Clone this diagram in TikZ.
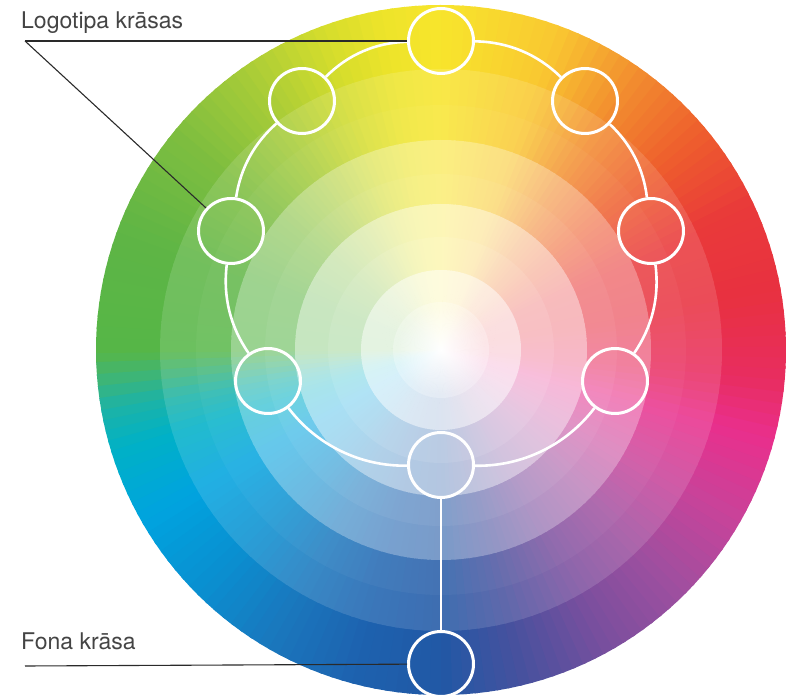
\documentclass[tikz,border=0pt]{standalone}
\usepackage{fontspec}
\setmainfont{TeX Gyre Heros}
\usepackage{tikz}
\usetikzlibrary{positioning,fadings}
\tikzfading[name=glowfade, inner color=transparent!0, outer color=transparent!100]
\definecolor{inkgray}{HTML}{444444}
\definecolor{linegray}{HTML}{2A2A2A}
% hue stops round the wheel
\definecolor{hA}{HTML}{56B647}
\definecolor{hB}{HTML}{44B56E}
\definecolor{hC}{HTML}{1DB3A6}
\definecolor{hD}{HTML}{00B1C6}
\definecolor{hE}{HTML}{00A3DF}
\definecolor{hF}{HTML}{0A8FD0}
\definecolor{hG}{HTML}{1A77BD}
\definecolor{hH}{HTML}{1D62AF}
\definecolor{hI}{HTML}{2158A5}
\definecolor{hJ}{HTML}{4A519E}
\definecolor{hK}{HTML}{7B4F9E}
\definecolor{hL}{HTML}{9F4F9F}
\definecolor{hM}{HTML}{C8439A}
\definecolor{hN}{HTML}{E92F8C}
\definecolor{hO}{HTML}{E82D60}
\definecolor{hP}{HTML}{E83140}
\definecolor{hQ}{HTML}{E9393A}
\definecolor{hR}{HTML}{EE5E2D}
\definecolor{hS}{HTML}{F28E2F}
\definecolor{hT}{HTML}{F9C831}
\definecolor{hU}{HTML}{F8E52C}
\definecolor{hV}{HTML}{EDE42A}
\definecolor{hW}{HTML}{D6DD2C}
\definecolor{hX}{HTML}{A8CC38}
\definecolor{hY}{HTML}{7FBE3F}
\definecolor{hZ}{HTML}{5EB545}

\begin{document}
\begin{tikzpicture}[x=1pt, y=1pt,
  swatch/.style={circle, draw=white, line width=3pt, minimum size=65pt, inner sep=0pt},
  ring/.style={draw=white, line width=2.6pt, looseness=0.9},
  lbl/.style={font=\fontsize{23}{27}\selectfont, text=inkgray, inner sep=0pt, anchor=base west},
  lead/.style={draw=linegray, line width=1.1pt},
]
\useasboundingbox (0,0) rectangle (787,696);

\coordinate (wheel) at (441,346);

% colour wheel, from the saturated rim to the pale middle
\foreach \r/\p in {345/100, 281/87, 245/84, 210/60, 176/57,
    146/34, 113/31, 80/16, 48/12}{
  \foreach \a/\b/\ca/\cb in {-180/-176/hA/hB, -176/-170/hB/hC, -170/-163/hC/hD,
      -163/-150/hD/hE, -150/-135/hE/hF, -135/-120/hF/hG, -120/-105/hG/hH,
      -105/-90/hH/hI, -90/-75/hI/hJ, -75/-60/hJ/hK, -60/-45/hK/hL, -45/-30/hL/hM,
      -30/-15/hM/hN, -15/-5/hN/hO, -5/10/hO/hP, 10/25/hP/hQ, 25/40/hQ/hR,
      40/55/hR/hS, 55/70/hS/hT, 70/90/hT/hU, 90/100/hU/hV, 100/110/hV/hW,
      110/125/hW/hX, 125/140/hX/hY, 140/160/hY/hZ, 160/180/hZ/hA}{
    \pgfmathtruncatemacro{\n}{max(1,round((\b-\a)/2))}
    \foreach \k in {1,...,\n}{
      \pgfmathsetmacro{\s}{\a+(\b-\a)*(\k-1)/\n}
      \pgfmathsetmacro{\e}{\a+(\b-\a)*\k/\n+0.5}
      \pgfmathsetmacro{\t}{100*(\k-0.5)/\n}
      \colorlet{huenow}{\cb!\t!\ca}
      \fill[huenow!\p!white] (wheel) -- ++(\s:\r) arc[start angle=\s, end angle=\e, radius=\r] -- cycle;
    }
  }
}
\fill[white, path fading=glowfade] (wheel) circle[radius=45];

\node[swatch] (c1) at (441,655) {};
\node[swatch] (c2) at (585,595) {};
\node[swatch] (c3) at (651,465) {};
\node[swatch] (c4) at (615,315) {};
\node[swatch] (c5) at (441,231) {};
\node[swatch] (c6) at (268,315) {};
\node[swatch] (c7) at (231,465) {};
\node[swatch] (c8) at (302,595) {};
\node[swatch] (fona) at (441,32) {};

\draw[ring] (c1) to[bend left=22] (c2);
\draw[ring] (c2) to[bend left=20] (c3);
\draw[ring] (c3) to[bend left=21] (c4);
\draw[ring] (c4) to[bend left=27] (c5);
\draw[ring] (c5) to[bend left=27] (c6);
\draw[ring] (c6) to[bend left=21] (c7);
\draw[ring] (c7) to[bend left=20] (c8);
\draw[ring] (c8) to[bend left=22] (c1);
\draw[ring] (c5) -- (fona);

\node[lbl] (logo) at (21,667) {Logotipa krāsas};
\node[lbl] (fonalbl) at (21,46) {Fona krāsa};

\coordinate (logofork) at (25,655);
\coordinate (fonafork) at (25,30);
\draw[lead] (logofork) -- (c1);
\draw[lead] (logofork) -- (c7);
\draw[lead] (fonafork) -- (fona);

\end{tikzpicture}
\end{document}
